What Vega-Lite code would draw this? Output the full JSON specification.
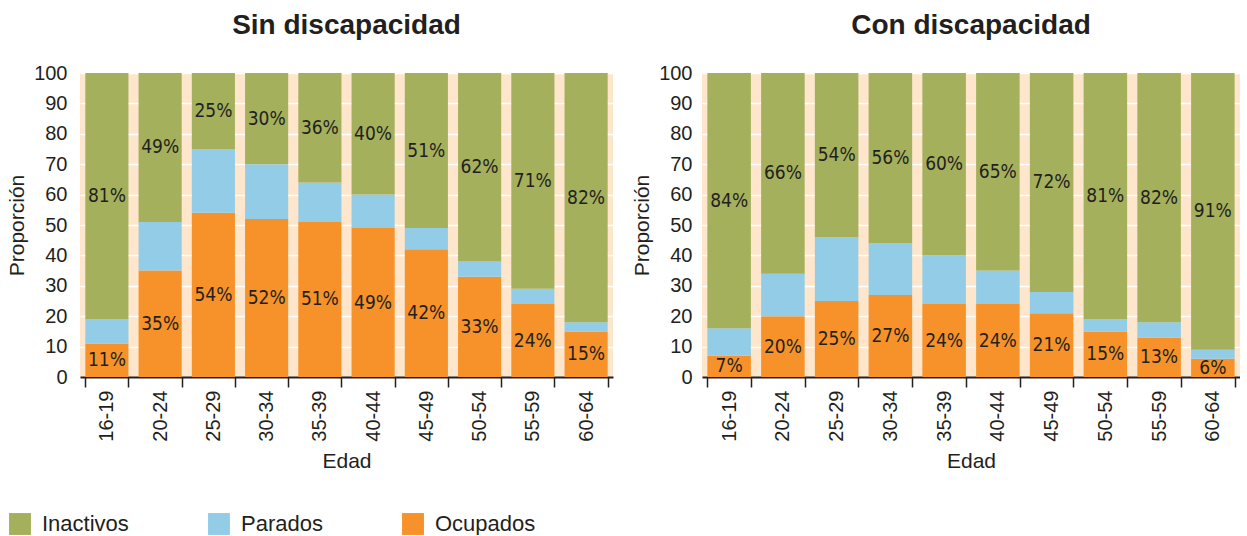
{
  "$schema": "https://vega.github.io/schema/vega-lite/v6.json",
  "padding": {"left": 6, "top": 12, "right": 0, "bottom": 0},
  "background": "white",
  "config": {
    "font": "Liberation Sans",
    "view": {"stroke": null, "fill": "#fde6cb"},
    "axis": {"labelFontSize": 20, "labelColor": "#231f20", "titleFontSize": 21, "titleFontWeight": "normal", "titleColor": "#231f20", "labelOverlap": false},
    "title": {"fontSize": 28, "fontWeight": "bold", "color": "#231f20", "anchor": "middle", "offset": 23},
    "legend": {"labelFontSize": 22, "labelColor": "#231f20"}
  },
  "data": {"values": [
    {"panel": "Sin", "age": "16-19", "status": "Ocupados", "orden": 1, "value": 11},
    {"panel": "Sin", "age": "16-19", "status": "Parados", "orden": 2, "value": 8},
    {"panel": "Sin", "age": "16-19", "status": "Inactivos", "orden": 3, "value": 81},
    {"panel": "Sin", "age": "20-24", "status": "Ocupados", "orden": 1, "value": 35},
    {"panel": "Sin", "age": "20-24", "status": "Parados", "orden": 2, "value": 16},
    {"panel": "Sin", "age": "20-24", "status": "Inactivos", "orden": 3, "value": 49},
    {"panel": "Sin", "age": "25-29", "status": "Ocupados", "orden": 1, "value": 54},
    {"panel": "Sin", "age": "25-29", "status": "Parados", "orden": 2, "value": 21},
    {"panel": "Sin", "age": "25-29", "status": "Inactivos", "orden": 3, "value": 25},
    {"panel": "Sin", "age": "30-34", "status": "Ocupados", "orden": 1, "value": 52},
    {"panel": "Sin", "age": "30-34", "status": "Parados", "orden": 2, "value": 18},
    {"panel": "Sin", "age": "30-34", "status": "Inactivos", "orden": 3, "value": 30},
    {"panel": "Sin", "age": "35-39", "status": "Ocupados", "orden": 1, "value": 51},
    {"panel": "Sin", "age": "35-39", "status": "Parados", "orden": 2, "value": 13},
    {"panel": "Sin", "age": "35-39", "status": "Inactivos", "orden": 3, "value": 36},
    {"panel": "Sin", "age": "40-44", "status": "Ocupados", "orden": 1, "value": 49},
    {"panel": "Sin", "age": "40-44", "status": "Parados", "orden": 2, "value": 11},
    {"panel": "Sin", "age": "40-44", "status": "Inactivos", "orden": 3, "value": 40},
    {"panel": "Sin", "age": "45-49", "status": "Ocupados", "orden": 1, "value": 42},
    {"panel": "Sin", "age": "45-49", "status": "Parados", "orden": 2, "value": 7},
    {"panel": "Sin", "age": "45-49", "status": "Inactivos", "orden": 3, "value": 51},
    {"panel": "Sin", "age": "50-54", "status": "Ocupados", "orden": 1, "value": 33},
    {"panel": "Sin", "age": "50-54", "status": "Parados", "orden": 2, "value": 5},
    {"panel": "Sin", "age": "50-54", "status": "Inactivos", "orden": 3, "value": 62},
    {"panel": "Sin", "age": "55-59", "status": "Ocupados", "orden": 1, "value": 24},
    {"panel": "Sin", "age": "55-59", "status": "Parados", "orden": 2, "value": 5},
    {"panel": "Sin", "age": "55-59", "status": "Inactivos", "orden": 3, "value": 71},
    {"panel": "Sin", "age": "60-64", "status": "Ocupados", "orden": 1, "value": 15},
    {"panel": "Sin", "age": "60-64", "status": "Parados", "orden": 2, "value": 3},
    {"panel": "Sin", "age": "60-64", "status": "Inactivos", "orden": 3, "value": 82},
    {"panel": "Con", "age": "16-19", "status": "Ocupados", "orden": 1, "value": 7},
    {"panel": "Con", "age": "16-19", "status": "Parados", "orden": 2, "value": 9},
    {"panel": "Con", "age": "16-19", "status": "Inactivos", "orden": 3, "value": 84},
    {"panel": "Con", "age": "20-24", "status": "Ocupados", "orden": 1, "value": 20},
    {"panel": "Con", "age": "20-24", "status": "Parados", "orden": 2, "value": 14},
    {"panel": "Con", "age": "20-24", "status": "Inactivos", "orden": 3, "value": 66},
    {"panel": "Con", "age": "25-29", "status": "Ocupados", "orden": 1, "value": 25},
    {"panel": "Con", "age": "25-29", "status": "Parados", "orden": 2, "value": 21},
    {"panel": "Con", "age": "25-29", "status": "Inactivos", "orden": 3, "value": 54},
    {"panel": "Con", "age": "30-34", "status": "Ocupados", "orden": 1, "value": 27},
    {"panel": "Con", "age": "30-34", "status": "Parados", "orden": 2, "value": 17},
    {"panel": "Con", "age": "30-34", "status": "Inactivos", "orden": 3, "value": 56},
    {"panel": "Con", "age": "35-39", "status": "Ocupados", "orden": 1, "value": 24},
    {"panel": "Con", "age": "35-39", "status": "Parados", "orden": 2, "value": 16},
    {"panel": "Con", "age": "35-39", "status": "Inactivos", "orden": 3, "value": 60},
    {"panel": "Con", "age": "40-44", "status": "Ocupados", "orden": 1, "value": 24},
    {"panel": "Con", "age": "40-44", "status": "Parados", "orden": 2, "value": 11},
    {"panel": "Con", "age": "40-44", "status": "Inactivos", "orden": 3, "value": 65},
    {"panel": "Con", "age": "45-49", "status": "Ocupados", "orden": 1, "value": 21},
    {"panel": "Con", "age": "45-49", "status": "Parados", "orden": 2, "value": 7},
    {"panel": "Con", "age": "45-49", "status": "Inactivos", "orden": 3, "value": 72},
    {"panel": "Con", "age": "50-54", "status": "Ocupados", "orden": 1, "value": 15},
    {"panel": "Con", "age": "50-54", "status": "Parados", "orden": 2, "value": 4},
    {"panel": "Con", "age": "50-54", "status": "Inactivos", "orden": 3, "value": 81},
    {"panel": "Con", "age": "55-59", "status": "Ocupados", "orden": 1, "value": 13},
    {"panel": "Con", "age": "55-59", "status": "Parados", "orden": 2, "value": 5},
    {"panel": "Con", "age": "55-59", "status": "Inactivos", "orden": 3, "value": 82},
    {"panel": "Con", "age": "60-64", "status": "Ocupados", "orden": 1, "value": 6},
    {"panel": "Con", "age": "60-64", "status": "Parados", "orden": 2, "value": 3},
    {"panel": "Con", "age": "60-64", "status": "Inactivos", "orden": 3, "value": 91}
  ]},
  "spacing": 18,
  "hconcat": [
    {
      "title": {"text": "Sin discapacidad"},
      "width": 533,
      "height": 304,
      "transform": [{"filter": "datum.panel === 'Sin'"}],
      "encoding": {
        "x": {"field": "age", "type": "ordinal", "title": "Edad",
          "scale": {"paddingInner": 0.19, "paddingOuter": 0.1},
          "axis": {"labelAngle": -90, "tickBand": "extent", "tickSize": 10, "tickColor": "#231f20", "tickWidth": 1.5, "domainColor": "#231f20", "domainWidth": 2, "labelPadding": 3, "titlePadding": 9}}
      },
      "layer": [
        {
          "mark": {"type": "bar"},
          "encoding": {
            "y": {"field": "value", "type": "quantitative", "stack": "zero", "title": "Proporción",
              "scale": {"domain": [0, 100], "nice": false},
              "axis": {"values": [0, 10, 20, 30, 40, 50, 60, 70, 80, 90, 100], "grid": true, "gridColor": "white", "gridWidth": 1.5, "domain": false, "ticks": false, "labelPadding": 13, "titlePadding": 6}},
            "color": {"field": "status", "type": "nominal", "title": null,
              "scale": {"domain": ["Inactivos", "Parados", "Ocupados"], "range": ["#a5b05c", "#93cce6", "#f7922a"]},
              "legend": {"orient": "none", "legendX": -71, "legendY": 440, "direction": "horizontal", "columns": 3, "gridAlign": "each", "columnPadding": 79, "symbolType": "square", "symbolSize": 480, "symbolStrokeWidth": 0, "labelOffset": 11}},
            "order": {"field": "orden", "type": "quantitative"}
          }
        },
        {
          "transform": [
            {"stack": "value", "groupby": ["age"], "sort": [{"field": "orden", "order": "ascending"}], "as": ["v0", "v1"]},
            {"fold": ["v0", "v1"], "as": ["k", "v"]},
            {"aggregate": [{"op": "mean", "field": "v", "as": "mid"}], "groupby": ["age", "status", "value"]},
            {"filter": "datum.status !== 'Parados'"}
          ],
          "mark": {"type": "text", "font": "DejaVu Sans Condensed, Liberation Sans", "fontSize": 19, "color": "#231f20", "baseline": "middle", "align": "center", "text": {"expr": "datum.value + '%'"}},
          "encoding": {
            "y": {"field": "mid", "type": "quantitative", "title": "Proporción",
              "axis": {"values": [0, 10, 20, 30, 40, 50, 60, 70, 80, 90, 100], "grid": true, "gridColor": "white", "gridWidth": 1.5, "domain": false, "ticks": false, "labelPadding": 13, "titlePadding": 6}}
          }
        }
      ]
    },
    {
      "title": {"text": "Con discapacidad"},
      "width": 538,
      "height": 304,
      "transform": [{"filter": "datum.panel === 'Con'"}],
      "encoding": {
        "x": {"field": "age", "type": "ordinal", "title": "Edad",
          "scale": {"paddingInner": 0.19, "paddingOuter": 0.1},
          "axis": {"labelAngle": -90, "tickBand": "extent", "tickSize": 10, "tickColor": "#231f20", "tickWidth": 1.5, "domainColor": "#231f20", "domainWidth": 2, "labelPadding": 3, "titlePadding": 9}}
      },
      "layer": [
        {
          "mark": {"type": "bar"},
          "encoding": {
            "y": {"field": "value", "type": "quantitative", "stack": "zero", "title": "Proporción",
              "scale": {"domain": [0, 100], "nice": false},
              "axis": {"values": [0, 10, 20, 30, 40, 50, 60, 70, 80, 90, 100], "grid": true, "gridColor": "white", "gridWidth": 1.5, "domain": false, "ticks": false, "labelPadding": 10, "titlePadding": 6}},
            "color": {"field": "status", "type": "nominal", "title": null,
              "scale": {"domain": ["Inactivos", "Parados", "Ocupados"], "range": ["#a5b05c", "#93cce6", "#f7922a"]}},
            "order": {"field": "orden", "type": "quantitative"}
          }
        },
        {
          "transform": [
            {"stack": "value", "groupby": ["age"], "sort": [{"field": "orden", "order": "ascending"}], "as": ["v0", "v1"]},
            {"fold": ["v0", "v1"], "as": ["k", "v"]},
            {"aggregate": [{"op": "mean", "field": "v", "as": "mid"}], "groupby": ["age", "status", "value"]},
            {"filter": "datum.status !== 'Parados'"}
          ],
          "mark": {"type": "text", "font": "DejaVu Sans Condensed, Liberation Sans", "fontSize": 19, "color": "#231f20", "baseline": "middle", "align": "center", "text": {"expr": "datum.value + '%'"}},
          "encoding": {
            "y": {"field": "mid", "type": "quantitative", "title": "Proporción",
              "axis": {"values": [0, 10, 20, 30, 40, 50, 60, 70, 80, 90, 100], "grid": true, "gridColor": "white", "gridWidth": 1.5, "domain": false, "ticks": false, "labelPadding": 10, "titlePadding": 6}}
          }
        }
      ]
    }
  ]
}
